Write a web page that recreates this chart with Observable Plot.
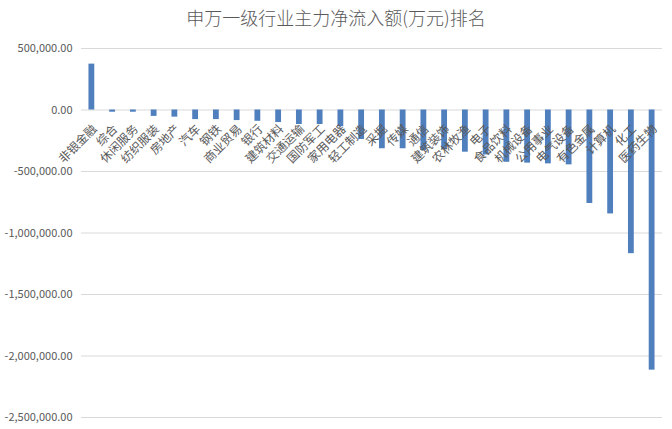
<!DOCTYPE html>
<html>
<head>
<meta charset="utf-8">
<script src="https://cdn.jsdelivr.net/npm/d3@7"></script>
<script src="https://cdn.jsdelivr.net/npm/@observablehq/plot@0.6"></script>
<style>
  html, body { margin: 0; padding: 0; background: #fff; }
  #title { height: 35px; width: 672px; text-align: center; font-family: "Noto Sans CJK SC", sans-serif; font-size: 18px; font-weight: 300; color: #595959; line-height: 35px; }
</style>
</head>
<body>
<div id="title">申万一级行业主力净流入额(万元)排名</div>
<div id="chart"></div>
<script>
const industries = ["非银金融","综合","休闲服务","纺织服装","房地产","汽车","钢铁","商业贸易","银行","建筑材料","交通运输","国防军工","家用电器","轻工制造","采掘","传媒","通信","建筑装饰","农林牧渔","电子","食品饮料","机械设备","公用事业","电气设备","有色金属","计算机","化工","医药生物"];
const netInflow = [373000,-18000,-18000,-52000,-58000,-78000,-78000,-86000,-92000,-102000,-118000,-118000,-136000,-240000,-315000,-315000,-330000,-322000,-343000,-365000,-425000,-432000,-438000,-446000,-760000,-845000,-1168000,-2115000];
const yTicks = [500000,0,-500000,-1000000,-1500000,-2000000,-2500000];

const data = industries.map((name, i) => ({name, value: netInflow[i]}));
const fmt = d => d3.format(",.2f")(d).replace("\u2212", "-");
const font = "\"Noto Sans CJK SC\", sans-serif";

const chart = Plot.plot({
  width: 672,
  height: 394,
  marginTop: 13,
  marginBottom: 12,
  marginLeft: 81,
  marginRight: 10,
  style: {fontFamily: font, fontSize: "11px", color: "#595959", background: "#fff"},
  x: {domain: industries, paddingInner: 0.72, paddingOuter: 0.36, round: false, axis: null},
  y: {domain: [-2500000, 500000], ticks: yTicks, tickFormat: fmt, tickSize: 0, tickPadding: 9, label: null},
  marks: [
    Plot.gridY(yTicks, {stroke: "#d9d9d9", strokeOpacity: 1}),
    Plot.barY(data, {x: "name", y: "value", fill: "#4f7fbd"}),
    Plot.text(data, {x: "name", y: () => 0, text: "name", rotate: -45, textAnchor: "end", dy: 17, dx: 3, fill: "#595959", fontSize: 12})
  ]
});
document.getElementById("chart").appendChild(chart);
</script>
</body>
</html>
